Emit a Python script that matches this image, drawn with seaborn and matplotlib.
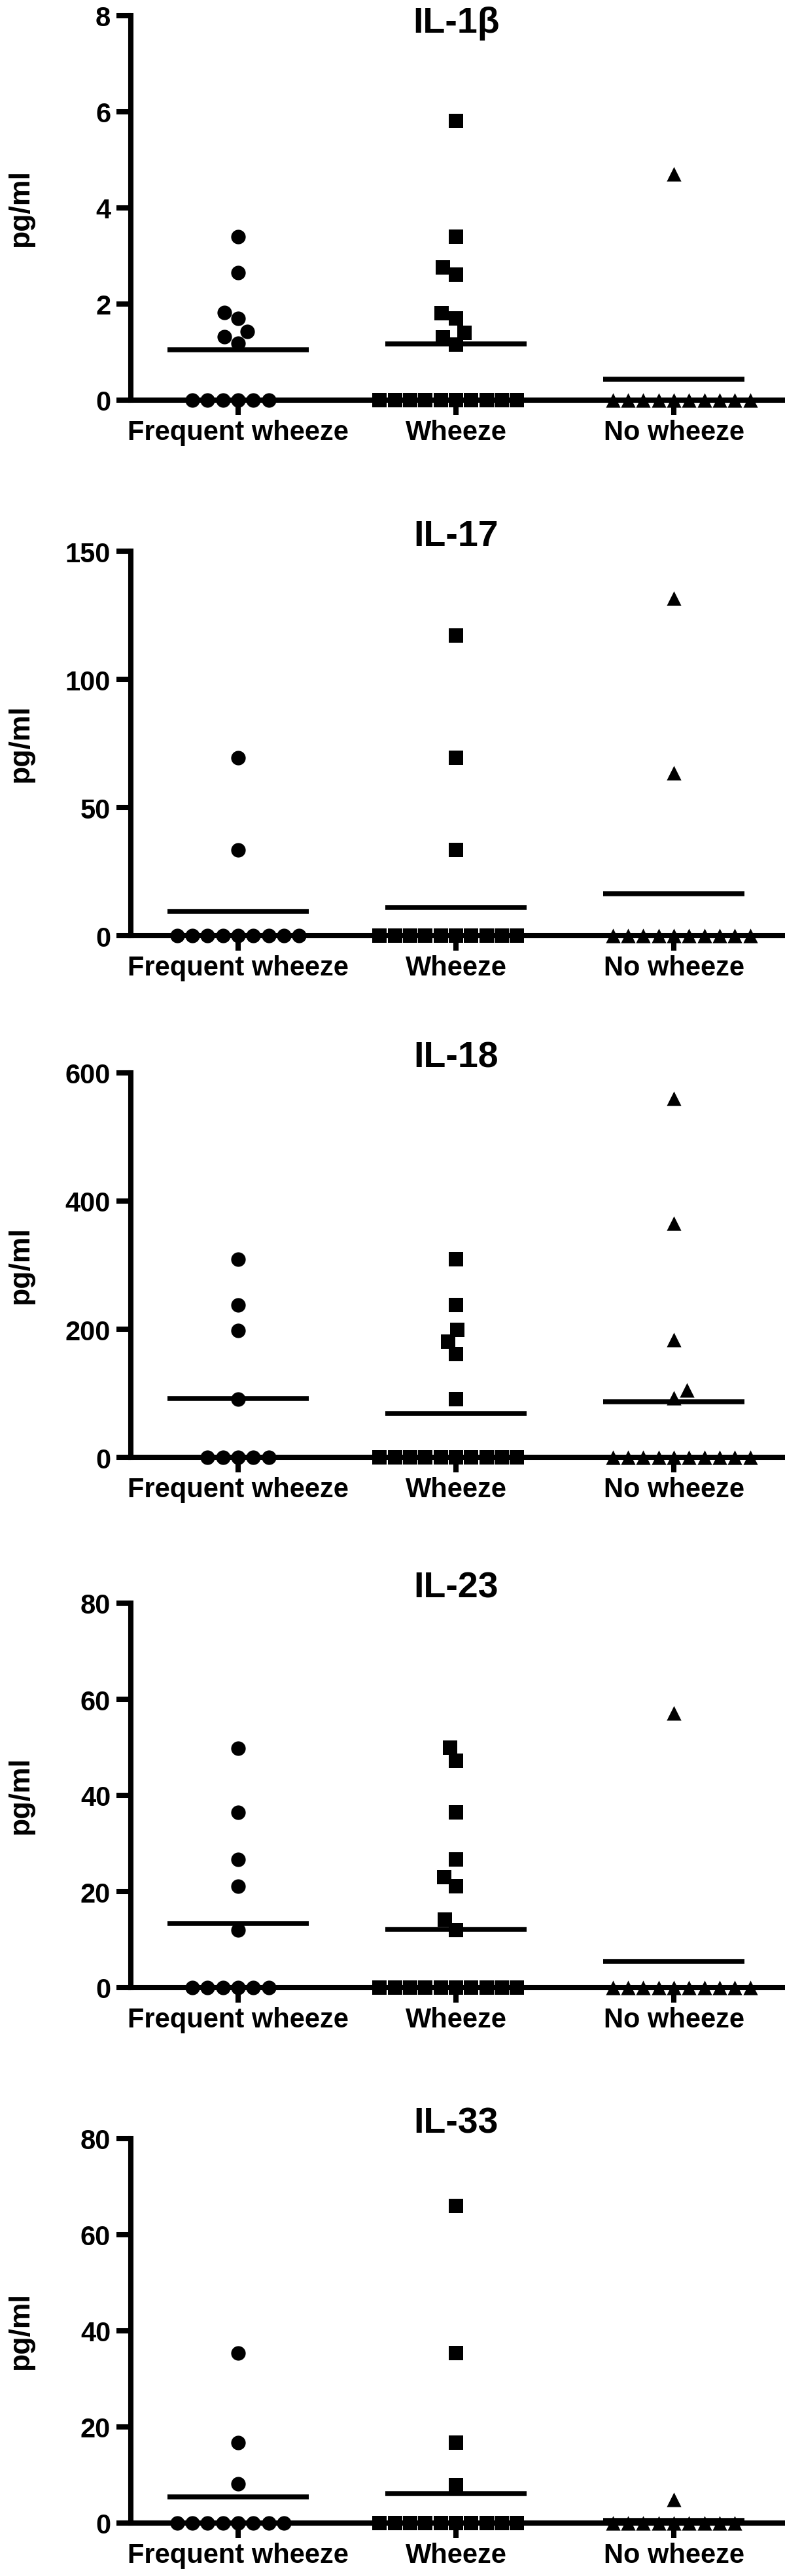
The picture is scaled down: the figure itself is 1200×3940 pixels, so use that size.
import numpy as np
import pandas as pd
import matplotlib
matplotlib.use("Agg")
import matplotlib.pyplot as plt
import matplotlib.transforms as mtransforms
import seaborn as sns
import warnings
warnings.filterwarnings("ignore")

# ---------------- data ----------------
groups = ["Frequent wheeze", "Wheeze", "No wheeze"]
group_markers = ["o", "s", "^"]
panel_titles = ["IL-1β", "IL-17", "IL-18", "IL-23", "IL-33"]
y_ticks = [[0, 2, 4, 6, 8],
           [0, 50, 100, 150],
           [0, 200, 400, 600],
           [0, 20, 40, 60, 80],
           [0, 20, 40, 60, 80]]
y_label = "pg/ml"

il1b_fw = [3.4, 2.64, 1.82, 1.69, 1.42, 1.31, 1.18, 0, 0, 0, 0, 0, 0]
il1b_w = [5.8, 3.4, 2.75, 2.6, 1.8, 1.7, 1.4, 1.3, 1.15, 0, 0, 0, 0, 0, 0, 0, 0, 0, 0]
il1b_nw = [4.7, 0, 0, 0, 0, 0, 0, 0, 0, 0, 0]
il1b_mean = [1.04, 1.16, 0.43]

il17_fw = [69.5, 33.5, 0, 0, 0, 0, 0, 0, 0, 0, 0]
il17_w = [117, 69.5, 33.5, 0, 0, 0, 0, 0, 0, 0, 0, 0, 0]
il17_nw = [131.7, 63.4, 0, 0, 0, 0, 0, 0, 0, 0, 0, 0]
il17_mean = [9.4, 11.0, 16.2]

il18_fw = [309.5, 237.5, 198, 90.6, 0, 0, 0, 0, 0]
il18_w = [309.5, 237.5, 199, 181, 161.6, 90.6, 0, 0, 0, 0, 0, 0, 0, 0, 0, 0]
il18_nw = [560.7, 365.8, 183.6, 105.3, 93, 0, 0, 0, 0, 0, 0, 0, 0, 0, 0]
il18_mean = [92.0, 68.6, 86.7]

il23_fw = [49.8, 36.4, 26.6, 21.1, 12.0, 0, 0, 0, 0, 0, 0]
il23_w = [50, 47.2, 36.4, 26.6, 23, 21.1, 14.1, 12.0, 0, 0, 0, 0, 0, 0, 0, 0, 0, 0]
il23_nw = [57.1, 0, 0, 0, 0, 0, 0, 0, 0, 0, 0]
il23_mean = [13.3, 12.1, 5.4]

il33_fw = [35.4, 16.7, 8.1, 0, 0, 0, 0, 0, 0, 0, 0]
il33_w = [66, 35.4, 16.7, 7.9, 0, 0, 0, 0, 0, 0, 0, 0, 0, 0]
il33_nw = [4.9, 0, 0, 0, 0, 0, 0, 0, 0, 0]
il33_mean = [5.5, 6.06, 0.55]

panel_values = [
    (il1b_fw, il1b_w, il1b_nw),
    (il17_fw, il17_w, il17_nw),
    (il18_fw, il18_w, il18_nw),
    (il23_fw, il23_w, il23_nw),
    (il33_fw, il33_w, il33_nw),
]
panel_means = [il1b_mean, il17_mean, il18_mean, il23_mean, il33_mean]

# ---------------- style ----------------
sns.set_style("ticks")
plt.rcParams["font.family"] = ["Liberation Sans", "DejaVu Sans"]
plt.rcParams["font.weight"] = "bold"

W, H = 1200, 3941
fig = plt.figure(figsize=(W / 100, H / 100), dpi=100)
fig.patch.set_facecolor("white")

zero_px = [612.5, 1432, 2230, 3041, 3860]
axis_h_px = 588
left_px, right_px = 200, 1200

LW = 5.8           # spine / tick width (pt)
MSIZE = 16         # marker size (pt)

for k in range(5):
    ax = fig.add_axes([left_px / W, (H - zero_px[k]) / H,
                       (right_px - left_px) / W, axis_h_px / H])
    fw, w, nw = panel_values[k]
    for gi, (vals, mk) in enumerate(zip((fw, w, nw), group_markers)):
        df = pd.DataFrame({"group": groups[gi], "value": vals})
        sns.swarmplot(data=df, x="group", y="value", order=groups,
                      marker=mk, color="black", size=MSIZE, linewidth=0,
                      clip_on=False, zorder=5, ax=ax)
    xs = np.arange(len(groups))
    ax.hlines(panel_means[k], xs - 0.325, xs + 0.325, colors="black",
              linewidth=5.4, zorder=4, clip_on=False)

    ax.set_xlim(-0.4925, 2.51)
    ax.set_ylim(0, y_ticks[k][-1])
    ax.set_yticks(y_ticks[k])
    ax.set_yticklabels([str(t) for t in y_ticks[k]])
    ax.set_xticks(xs)
    ax.set_xticklabels(groups)
    ax.set_xlabel("")
    ax.set_ylabel(y_label, fontsize=32, fontweight="bold", color="black")
    ax.yaxis.set_label_coords(-0.148, 0.5)

    for side in ("top", "right"):
        ax.spines[side].set_visible(False)
    for side in ("left", "bottom"):
        ax.spines[side].set_linewidth(LW)
        ax.spines[side].set_color("black")
        ax.spines[side].set_capstyle("projecting")
    ax.tick_params(axis="both", direction="out", length=16.2, width=LW,
                   color="black", labelsize=30, labelcolor="black")
    ax.tick_params(axis="x", pad=5)
    ax.tick_params(axis="y", pad=6)
    for lab in ax.get_xticklabels() + ax.get_yticklabels():
        lab.set_fontweight("bold")

    ty = (zero_px[k] - 50) / axis_h_px if k == 0 else (axis_h_px + 9) / axis_h_px
    trans = mtransforms.blended_transform_factory(ax.transData, ax.transAxes)
    ax.text(1, ty, panel_titles[k], transform=trans, ha="center",
            va="baseline", fontsize=40, fontweight="bold", color="black")
    ax.set_facecolor("none")

fig.savefig("out.png", dpi=100, facecolor="white")
